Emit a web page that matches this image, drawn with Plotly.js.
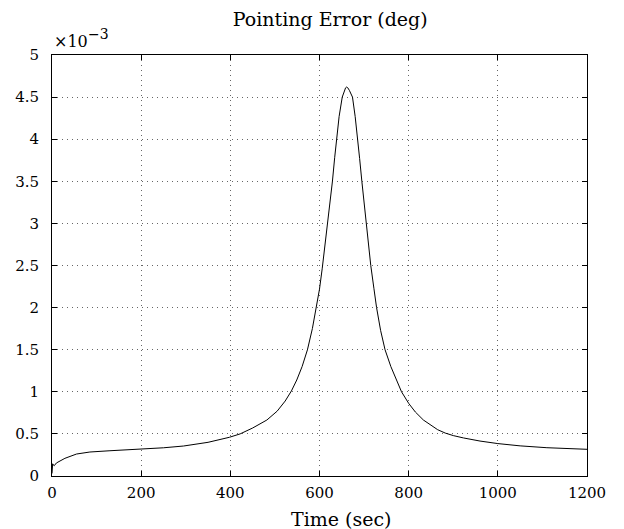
<!DOCTYPE html>
<html>
<head>
<meta charset="utf-8">
<script src="https://cdn.plot.ly/plotly-3.0.1.min.js"></script>
<style>html,body{margin:0;padding:0;background:#fff;}#chart{width:624px;height:529px;}</style>
</head>
<body>
<div id="chart"></div>
<script>
// Time in seconds
const timeSec = [0, 0.5, 1.5, 3, 5, 10, 20, 29, 55, 85, 130, 197, 250, 295, 350, 398, 422, 450, 482, 505, 523, 537, 549, 561, 573, 584, 594, 600, 606, 612, 618, 624, 629, 634, 638.5, 644, 651, 655, 658.5, 661, 663.5, 667, 670, 674, 680, 686, 690, 695, 700, 704, 710, 715, 722, 728, 737, 747, 760, 773, 784, 800, 815, 833, 850, 865, 882, 900, 923, 960, 1000, 1050, 1110, 1160, 1200];
// Pointing error in units of 1e-3 deg
const errorMilliDeg = [0.03, 0.10, 0.145, 0.13, 0.122, 0.155, 0.185, 0.21, 0.261, 0.285, 0.30, 0.317, 0.335, 0.356, 0.40, 0.46, 0.5, 0.57, 0.665, 0.77, 0.89, 1.01, 1.14, 1.30, 1.5, 1.75, 2.02, 2.22, 2.46, 2.72, 3.0, 3.27, 3.5, 3.78, 4.0, 4.27, 4.5, 4.57, 4.61, 4.62, 4.61, 4.58, 4.55, 4.5, 4.27, 4.0, 3.77, 3.5, 3.25, 3.0, 2.72, 2.5, 2.23, 2.0, 1.73, 1.5, 1.3, 1.14, 1.0, 0.863, 0.76, 0.665, 0.6, 0.55, 0.51, 0.48, 0.452, 0.415, 0.385, 0.358, 0.336, 0.325, 0.317];
const xTicks = [0, 200, 400, 600, 800, 1000, 1200];
const yTicks = [0, 0.5, 1, 1.5, 2, 2.5, 3, 3.5, 4, 4.5, 5];
const yTickLabels = ['0', '0.5', '1', '1.5', '2', '2.5', '3', '3.5', '4', '4.5', '5'];

const family = '"DejaVu Serif", "Liberation Serif", serif';
const tickFont = {family: family, size: 15, color: '#000'};

const trace = {
  x: timeSec, y: errorMilliDeg, type: 'scatter', mode: 'lines',
  line: {color: '#000', width: 1, shape: 'linear'},
  hoverinfo: 'skip'
};

const axisCommon = {
  showline: true, linecolor: '#000', linewidth: 1, mirror: 'ticks',
  ticks: 'inside', ticklen: 5, tickcolor: '#000',
  showgrid: true, gridcolor: '#666', griddash: '1px,4px', gridwidth: 1,
  zeroline: false, tickfont: tickFont
};

const layout = {
  width: 624, height: 529,
  margin: {l: 52, r: 37, t: 55, b: 53},
  paper_bgcolor: '#fff', plot_bgcolor: '#fff',
  showlegend: false,
  font: tickFont,
  title: {text: 'Pointing Error (deg)', font: {family: family, size: 19, color: '#000'}, xref: 'paper', x: 0.52, xanchor: 'center', y: 0.963, yanchor: 'middle'},
  xaxis: Object.assign({}, axisCommon, {
    range: [0, 1200], tickmode: 'array', tickvals: xTicks, ticktext: xTicks.map(String),
    ticklabelstandoff: 3
  }),
  yaxis: Object.assign({}, axisCommon, {
    range: [0, 5], tickmode: 'array', tickvals: yTicks, ticktext: yTickLabels,
    ticklabelstandoff: 9
  }),
  annotations: [
    {xref: 'paper', yref: 'paper', x: 0.542, y: -0.102, xanchor: 'center', yanchor: 'middle',
     text: 'Time (sec)', showarrow: false, font: {family: family, size: 19, color: '#000'}},
    {xref: 'paper', yref: 'paper', x: 0.0, y: 1.032, xanchor: 'left', yanchor: 'middle',
     text: '×10', showarrow: false, font: {family: family, size: 16, color: '#000'}},
    {xref: 'paper', yref: 'paper', x: 0.064, y: 1.05, xanchor: 'left', yanchor: 'middle',
     text: '−3', showarrow: false, font: {family: family, size: 14, color: '#000'}}
  ]
};

Plotly.newPlot('chart', [trace], layout, {displayModeBar: false, staticPlot: true});
</script>
</body>
</html>
